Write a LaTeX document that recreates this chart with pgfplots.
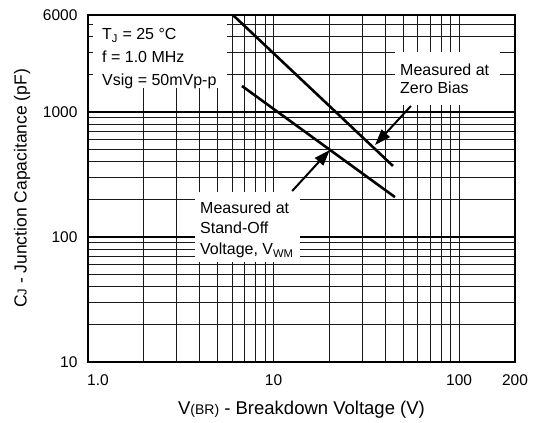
\documentclass[border=0pt]{standalone}
\usepackage{fontspec}
\setmainfont{Liberation Sans}
\usepackage{pgfplots}
\pgfplotsset{compat=1.18}
\usetikzlibrary{arrows.meta}
\newcommand{\ann}{\fontsize{16bp}{19bp}\selectfont}
\begin{document}
\begin{tikzpicture}
\begin{axis}[
  name=ax,
  xmode=log, ymode=log,
  scale only axis, width=427bp, height=347bp,
  xmin=1, xmax=200, ymin=10, ymax=6000,
  clip=false,
  xtick={1,10,100,200}, xticklabels={\hspace*{20bp}1.0,10,100,200},
  ytick={10,6000}, yticklabels={10,6000},
  extra y ticks={100,1000}, extra y tick labels={100,1000},
  extra y tick style={grid=major, major grid style={black, line width=2bp}},
  minor xtick={2,3,4,5,6,7,8,9,20,30,40,50,60,70,80,90},
  minor ytick={20,30,40,50,60,70,80,90,200,300,400,500,600,700,800,900,2000,3000,4000,5000},
  grid=both,
  major grid style={black!90, line width=1bp},
  minor grid style={black!90, line width=1bp},
  major tick length=0pt, minor tick length=0pt,
  axis line style={line width=2bp},
  tick label style={font=\fontsize{15.5bp}{18bp}\selectfont},
  xticklabel style={yshift=-9bp},
  yticklabel style={xshift=-7bp},
  xlabel={V{\fontsize{14bp}{16bp}\selectfont(BR)} - Breakdown Voltage (V)},
  ylabel={C{\fontsize{13bp}{14bp}\selectfont J} - Junction Capacitance (pF)},
  every axis x label/.style={at={(axis description cs:0.5,-0.1383)}, anchor=center, font=\fontsize{18.5bp}{21bp}\selectfont},
  every axis y label/.style={at={(axis description cs:-0.1546,0.5)}, rotate=90, anchor=center, font=\fontsize{17.5bp}{20bp}\selectfont},
]
\addplot[black, line width=2.6bp] coordinates {(6.04,6000) (44,371)};
\addplot[black, line width=2.6bp] coordinates {(6.76,1620) (45.1,209)};

% white boxes behind annotations
\fill[white] (rel axis cs:0.0117,0.7896) rectangle (rel axis cs:0.3255,1);
\fill[white] (rel axis cs:0.719,0.7406) rectangle (rel axis cs:0.965,0.8934);
\fill[white] (rel axis cs:0.2506,0.2882) rectangle (rel axis cs:0.4965,0.4899);

\node[anchor=base west, inner sep=0pt, font=\ann] at (rel axis cs:0.0328,0.928) {T\textsubscript{J} = 25 °C};
\node[anchor=base west, inner sep=0pt, font=\ann] at (rel axis cs:0.0328,0.863) {f = 1.0 MHz};
\node[anchor=base west, inner sep=0pt, font=\ann] at (rel axis cs:0.0328,0.798) {Vsig = 50mVp-p};

\node[anchor=base west, inner sep=0pt, font=\ann] at (rel axis cs:0.7307,0.827) {Measured at};
\node[anchor=base west, inner sep=0pt, font=\ann] at (rel axis cs:0.7307,0.7744) {Zero Bias};

\node[anchor=base west, inner sep=0pt, font=\ann] at (rel axis cs:0.2623,0.4285) {Measured at};
\node[anchor=base west, inner sep=0pt, font=\ann] at (rel axis cs:0.2623,0.3689) {Stand-Off};
\node[anchor=base west, inner sep=0pt, font=\ann] at (rel axis cs:0.2623,0.3084) {Voltage, V\textsubscript{WM}};

\draw[black, line width=2bp, -{Triangle[length=16bp,width=11bp]}] (axis cs:55,1122) -- (axis cs:35.2,546);
\draw[black, line width=2bp, -{Triangle[length=16bp,width=11bp]}] (axis cs:12.6,234) -- (axis cs:20.1,498);

\draw[black, line width=2bp] (rel axis cs:0,0) rectangle (rel axis cs:1,1);
\end{axis}
\pgfresetboundingbox
\path ([shift={(-88bp,-61bp)}]ax.south west) rectangle ([shift={(22bp,15bp)}]ax.north east);
\end{tikzpicture}
\end{document}
